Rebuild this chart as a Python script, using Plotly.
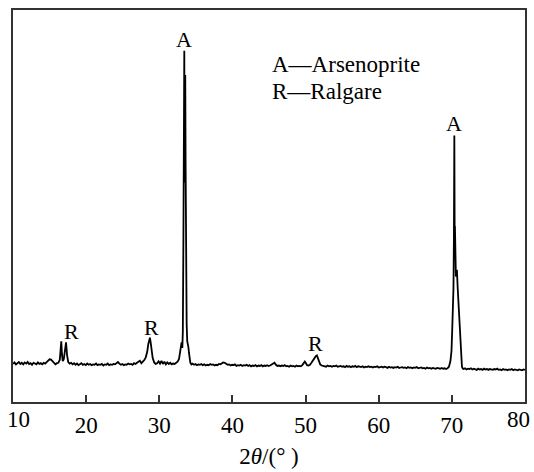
import plotly.graph_objects as go

# ---- data (2theta in degrees, intensity in arbitrary units) ----
tt_a = [10.0,10.2,10.4,10.6,10.8,11.0,11.2,11.4,11.6,11.8,12.0,12.2,12.4,12.6,12.8,13.0,
        13.2,13.4,13.6,13.8,14.0,14.2,14.4,14.6,14.8,15.0,15.2,15.4,15.6,15.8,16.0,16.2]
in_a = [97,101,96,99,102,97,100,96,101,98,102,97,99,95,100,98,
        96,101,97,99,96,100,98,102,106,109,108,103,99,96,99,100]

tt_b = [16.4,16.5,16.6,16.7,16.8,16.95,17.1,17.25,17.4,17.55,17.75,17.95]
in_b = [108,130,155,120,104,110,128,152,118,102,98,100]

tt_c = [18.15,18.35,18.55,18.75,18.95,19.15,19.35,19.55,19.75,19.95,
        20.15,20.35,20.55,20.75,20.95,21.15,21.35,21.55,21.75,21.95,
        22.15,22.35,22.55,22.75,22.95,23.15,23.35,23.55,23.75,23.95,
        24.15,24.35,24.55,24.75,24.95,25.15,25.35,25.55,25.75,25.95,
        26.15,26.35,26.55,26.75,26.95,27.15,27.35,27.55,27.75,27.95]
in_c = [96,99,95,98,94,97,99,95,97,94,
        98,95,97,94,96,95,98,94,96,95,
        97,93,96,95,98,94,96,95,97,96,
        99,102,98,95,97,94,96,95,98,96,
        97,95,99,97,100,103,105,99,102,107]

tt_d = [28.15,28.35,28.5,28.62,28.72,28.82,28.95,29.1,29.3,29.5]
in_d = [114,128,148,162,164,152,130,112,101,97]

tt_e = [29.7,29.9,30.1,30.3,30.5,30.7,30.9,31.1,31.3,31.5,31.7,31.9,32.1,32.3,32.5,32.7,32.85]
in_e = [99,104,98,105,97,103,96,101,97,100,96,98,97,101,103,110,125]

tt_f = [32.95,33.05,33.15,33.22,33.3,33.36,33.42,33.46,33.5,33.55,
        33.6,33.66,33.74,33.82,33.9,33.98,34.06,34.15,34.25,34.4]
in_f = [145,152,138,180,420,780,896,560,700,834,
        600,330,200,155,150,140,125,110,100,96]

tt_g = [34.55,34.75,34.95,35.15,35.35,35.55,35.75,35.95,36.15,36.35,
        36.55,36.75,36.95,37.15,37.35,37.55,37.75,37.95,38.15,38.35,
        38.55,38.75,38.95,39.15,39.35,39.55,39.75,39.95,40.15,40.35,
        40.55,40.75,40.95,41.15,41.35,41.55,41.75,41.95,42.15,42.35,
        42.55,42.75,42.95,43.15,43.35,43.55,43.75,43.95,44.15,44.35,
        44.55,44.75,44.95,45.15,45.35,45.55,45.75,45.95,46.15,46.35,
        46.55,46.75,46.95,47.15,47.35,47.55,47.75,47.95,48.15,48.35,
        48.55,48.75,48.95,49.15,49.35,49.55]
in_g = [98,95,97,94,96,95,97,94,96,93,
        95,94,97,95,96,93,95,94,97,96,
        99,101,100,97,95,96,93,95,94,96,
        92,94,93,95,92,94,93,95,92,94,
        91,93,92,94,91,93,92,94,91,93,
        92,94,92,93,95,98,100,95,92,93,
        91,93,92,94,91,92,90,93,91,92,
        90,93,91,92,91,94]

tt_h = [49.75,49.9,50.05,50.2,50.4,50.6,50.8,51.0,51.2,51.4,51.55,51.7,51.85,52.0,52.2,52.4]
in_h = [99,103,99,94,93,95,100,107,113,117,119,112,103,96,93,92]

tt_i = [52.6,52.8,53.0,53.2,53.4,53.6,53.8,54.0,54.2,54.4,
        54.6,54.8,55.0,55.2,55.4,55.6,55.8,56.0,56.2,56.4,
        56.6,56.8,57.0,57.2,57.4,57.6,57.8,58.0,58.2,58.4,
        58.6,58.8,59.0,59.2,59.4,59.6,59.8,60.0,60.2,60.4,
        60.6,60.8,61.0,61.2,61.4,61.6,61.8,62.0,62.2,62.4,
        62.6,62.8,63.0,63.2,63.4,63.6,63.8,64.0,64.2,64.4,
        64.6,64.8,65.0,65.2,65.4,65.6,65.8,66.0,66.2,66.4,
        66.6,66.8,67.0,67.2,67.4,67.6,67.8,68.0,68.2,68.4,
        68.6,68.8,69.0,69.2,69.4,69.6,69.8]
in_i = [92,90,93,91,92,90,92,91,93,90,
        91,92,90,91,89,92,90,91,89,91,
        90,92,89,91,90,89,91,88,90,89,
        91,89,90,88,90,89,91,88,89,90,
        88,90,89,87,90,88,89,87,89,88,
        90,87,88,89,87,88,86,89,87,88,
        86,88,87,89,86,87,88,86,87,85,
        88,86,87,85,87,86,85,87,86,85,
        87,85,86,84,86,90,104]

tt_j = [69.95,70.05,70.15,70.22,70.28,70.34,70.38,70.42,70.48,70.55,
        70.62,70.69,70.8,70.92,71.03,71.15,71.27,71.38,71.5]
in_j = [130,185,235,290,420,680,440,449,360,320,
        335,337,290,250,223,160,110,90,85]

tt_k = [71.6,71.8,72.0,72.2,72.4,72.6,72.8,73.0,73.2,73.4,
        73.6,73.8,74.0,74.2,74.4,74.6,74.8,75.0,75.2,75.4,
        75.6,75.8,76.0,76.2,76.4,76.6,76.8,77.0,77.2,77.4,
        77.6,77.8,78.0,78.2,78.4,78.6,78.8,79.0,79.2,79.4,
        79.6,79.8,80.0]
in_k = [84,86,83,85,84,86,83,85,84,82,
        85,83,84,82,85,83,84,82,84,83,
        82,84,83,85,82,83,81,84,82,83,
        81,83,82,84,81,83,82,81,83,82,
        81,83,82]

two_theta = tt_a + tt_b + tt_c + tt_d + tt_e + tt_f + tt_g + tt_h + tt_i + tt_j + tt_k
intensity = in_a + in_b + in_c + in_d + in_e + in_f + in_g + in_h + in_i + in_j + in_k
assert len(two_theta) == len(intensity), (len(two_theta), len(intensity))

# peak labels
peak_labels = ["A", "A", "R", "R", "R"]
peak_label_x = [33.42, 70.33, 17.95, 28.87, 51.4]
peak_label_y = [924, 710, 181, 189, 149]

legend_lines = ["A\u2014Arsenoprite", "R\u2014Ralgare"]
legend_x = [45.3, 45.3]
legend_y = [861, 792]

x_ticks = [10, 20, 30, 40, 50, 60, 70, 80]
# edge tick labels sit slightly inside the frame in the reference
x_tick_text = ["", "20", "30", "40", "50", "60", "70", ""]
edge_labels = ["10", "80"]
edge_label_x = [10, 80]
edge_label_shift = [5, -7]

SERIF = "Liberation Serif"
FS = 23

fig = go.Figure()
fig.add_trace(go.Scatter(x=two_theta, y=intensity, mode="lines",
                         line=dict(color="black", width=1.8), hoverinfo="skip"))

for t, x, y in zip(peak_labels, peak_label_x, peak_label_y):
    fig.add_annotation(x=x, y=y, text=t, showarrow=False, xanchor="center", yanchor="middle",
                       font=dict(family=SERIF, size=22, color="black"))
for t, x, y in zip(legend_lines, legend_x, legend_y):
    fig.add_annotation(x=x, y=y, text=t, showarrow=False, xanchor="left", yanchor="middle",
                       borderpad=0, font=dict(family=SERIF, size=FS, color="black"))
for t, x, s in zip(edge_labels, edge_label_x, edge_label_shift):
    fig.add_annotation(x=x, y=0, xref="x", yref="y", text=t, showarrow=False,
                       xanchor="center", yanchor="top", yshift=-3, xshift=s,
                       font=dict(family=SERIF, size=FS, color="black"))

fig.update_layout(
    width=534, height=472,
    margin=dict(l=13, r=7, t=10, b=59),
    paper_bgcolor="white", plot_bgcolor="white",
    showlegend=False,
    font=dict(family=SERIF, size=FS, color="black"),
    xaxis=dict(range=[10, 80], tickvals=x_ticks, ticktext=x_tick_text,
               ticks="inside", ticklen=7, tickwidth=1.5, tickcolor="#333",
               showline=True, linecolor="#333", linewidth=1.6, mirror=True,
               showgrid=False, zeroline=False, ticklabelstandoff=2,
               tickfont=dict(family=SERIF, size=FS, color="black"),
               title=dict(text="2<i>θ</i>/(° )", font=dict(family=SERIF, size=FS, color="black"),
                          standoff=10)),
    yaxis=dict(range=[0, 1000], showticklabels=False, ticks="",
               showline=True, linecolor="#333", linewidth=1.6, mirror=True,
               showgrid=False, zeroline=False),
)

fig.write_html("out.html")
